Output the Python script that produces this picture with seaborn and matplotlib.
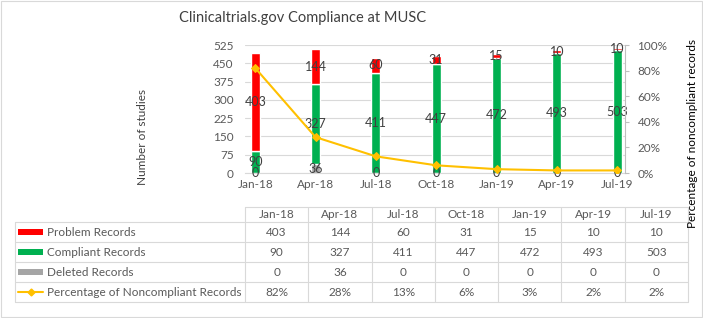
import numpy as np
import matplotlib
matplotlib.use('Agg')
import matplotlib.pyplot as plt
from matplotlib.patches import Rectangle
import seaborn as sns

# data
months = ['Jan-18', 'Apr-18', 'Jul-18', 'Oct-18', 'Jan-19', 'Apr-19', 'Jul-19']
problem = [403, 144, 60, 31, 15, 10, 10]
compliant = [90, 327, 411, 447, 472, 493, 503]
deleted = [0, 36, 0, 0, 0, 0, 0]
pct_noncompliant = [82, 28, 13, 6, 3, 2, 2]

series_names = ['Problem Records', 'Compliant Records', 'Deleted Records',
                'Percentage of Noncompliant Records']

c_red = '#FF0000'
c_green = '#00B050'
c_grey = '#A5A5A5'
c_yellow = '#FFC000'
c_grid = '#D9D9D9'
c_text = '#595959'

sns.set_style('white')
plt.rcParams['font.family'] = ['Lato', 'DejaVu Sans']

W, H = 703, 318
fig = plt.figure(figsize=(W / 100, H / 100), dpi=100)

def px(x0, y0, x1, y1):
    # pixel box (top-left origin) -> figure fraction rect
    return [x0 / W, 1 - y1 / H, (x1 - x0) / W, (y1 - y0) / H]

ax = fig.add_axes(px(245, 45, 625, 173))

# stacked bars: deleted at bottom, then compliant, then problem
bottom_c = np.array(deleted)
bottom_p = bottom_c + np.array(compliant)
sns.barplot(x=months, y=deleted, color=c_grey, width=0.15, ax=ax, saturation=1)
sns.barplot(x=months, y=compliant, bottom=bottom_c, color=c_green, width=0.15,
            ax=ax, saturation=1)
sns.barplot(x=months, y=problem, bottom=bottom_p, color=c_red, width=0.15,
            ax=ax, saturation=1)

for cont in ax.containers:
    ax.bar_label(cont, label_type='center', fontsize=9, color='#404040')

ax.set_xlim(-0.17, 6.13)
ax.set_ylim(0, 525)
ax.set_yticks(range(0, 526, 75))
ax.yaxis.grid(True, color=c_grid, linewidth=0.8)
ax.set_axisbelow(True)
for s in ['left', 'top', 'right']:
    ax.spines[s].set_visible(False)
ax.spines['bottom'].set_color(c_grid)
ax.tick_params(axis='y', length=0, labelsize=8.5, labelcolor=c_text, pad=8)
ax.tick_params(axis='x', length=0, labelsize=8.5, labelcolor=c_text, pad=4)
ax.set_xlabel('')
ax.set_ylabel('')

# percentage line on secondary axis
ax2 = ax.twinx()
sns.lineplot(x=months, y=pct_noncompliant, sort=False, color=c_yellow,
             marker='D', markersize=4, markeredgecolor=c_yellow, linewidth=1.5,
             ax=ax2)
ax2.set_ylim(0, 100)
ax2.set_yticks(range(0, 101, 20))
ax2.set_yticklabels([f'{v}%' for v in range(0, 101, 20)])
for s in ['left', 'top', 'bottom']:
    ax2.spines[s].set_visible(False)
ax2.spines['right'].set_color('#BFBFBF')
ax2.tick_params(axis='y', length=3, color='#BFBFBF', labelsize=8.5,
                labelcolor=c_text, pad=6)
ax2.set_ylabel('')

fig.text(303 / W, 1 - 18 / H, 'Clinicaltrials.gov Compliance at MUSC',
         ha='center', va='center', fontsize=10.5, color='#404040')
fig.text(143 / W, 1 - 137 / H, 'Number of studies', rotation=90,
         ha='center', va='center', fontsize=8.5, color='#404040')

# data table
tab = fig.add_axes([0, 0, 1, 1], zorder=-1)
tab.set_xlim(0, W)
tab.set_ylim(H, 0)
tab.axis('off')

col_left = 245
col_w = (688 - 245) / len(months)
row_tops = [222, 242, 262, 282]
row_h = 20
lw = 0.8

tab.plot([col_left, 688], [207, 207], color=c_grid, lw=lw)
for y in row_tops + [302]:
    tab.plot([15, 688], [y, y], color=c_grid, lw=lw)
tab.plot([15, 15], [222, 302], color=c_grid, lw=lw)
for i in range(len(months) + 1):
    x = col_left + i * col_w
    tab.plot([x, x], [207, 302], color=c_grid, lw=lw)

for i, m in enumerate(months):
    xc = col_left + (i + 0.5) * col_w
    tab.text(xc, 214.5, m, ha='center', va='center', fontsize=8.5, color=c_text)
    vals = [problem[i], compliant[i], deleted[i], f'{pct_noncompliant[i]}%']
    for r, v in enumerate(vals):
        tab.text(xc, row_tops[r] + row_h / 2, str(v), ha='center', va='center',
                 fontsize=8.5, color=c_text)

for r, (name, col) in enumerate(zip(series_names, [c_red, c_green, c_grey, c_yellow])):
    yc = row_tops[r] + row_h / 2
    if r < 3:
        tab.add_patch(Rectangle((18, yc - 3), 25, 6, color=col, lw=0))
    else:
        tab.plot([18, 43], [yc, yc], color=col, lw=1.5)
        tab.plot([30.5], [yc], marker='D', markersize=3.5, color=col)
    tab.text(47, yc, name, ha='left', va='center', fontsize=8.5, color=c_text)

tab.add_patch(Rectangle((1, 1), W - 2.5, H - 2.5, fill=False, edgecolor=c_grid, lw=0.8))

fig.text(693 / W, 1 - 134 / H, 'Percentage of noncompliant records', rotation=90,
         ha='center', va='center', fontsize=8.5, color='black')

fig.savefig('out.png', dpi=100)
